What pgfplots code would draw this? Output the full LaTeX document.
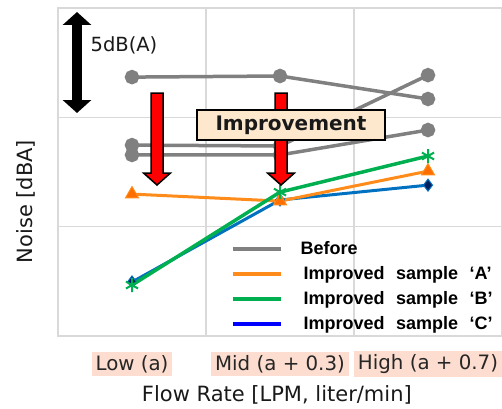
\documentclass[border=0pt]{standalone}
\usepackage{fontspec}
\setmainfont{DejaVu Sans}
\newfontfamily\legfont{Liberation Sans}[WordSpace=2.3]
\usepackage{pgfplots}
\pgfplotsset{compat=1.18}
\usetikzlibrary{arrows.meta}
\definecolor{grayline}{RGB}{128,128,128}
\definecolor{orangeA}{RGB}{255,140,26}
\definecolor{orangeFill}{RGB}{255,110,0}
\definecolor{greenB}{RGB}{0,176,80}
\definecolor{blueC}{RGB}{0,112,192}
\definecolor{blueLeg}{RGB}{0,0,255}
\definecolor{navy}{RGB}{0,32,96}
\definecolor{gridc}{RGB}{217,217,217}
\definecolor{tickbg}{RGB}{252,221,207}
\definecolor{boxbg}{RGB}{253,232,206}
\begin{document}
\begin{tikzpicture}[x=1pt,y=1pt]
\begin{axis}[
  at={(58pt,72pt)}, anchor=south west,
  scale only axis, width=444pt, height=328pt,
  xmin=0, xmax=3, ymin=0, ymax=15,
  xtick={0.5,1.5,2.5},
  xticklabels={Low (a), Mid (a + 0.3), High (a + 0.7)},
  minor xtick={1,2},
  ytick={5,10}, yticklabels={},
  xmajorgrids=false, xminorgrids=true, ymajorgrids=true,
  grid style={gridc, line width=1.5pt},
  minor grid style={gridc, line width=1.5pt},
  axis line style={gridc, line width=1.5pt},
  major tick length=0pt, minor tick length=0pt,
  xticklabel style={font=\fontsize{19.8}{21}\selectfont, fill=tickbg, inner xsep=4pt, inner ysep=3pt, anchor=center, yshift=-28pt, text=black!85},
  xlabel={Flow Rate [LPM, liter/min]},
  xlabel style={font=\fontsize{21}{23}\selectfont, at={(axis description cs:0.493,-0.18)}, anchor=center, text=black!90},
  ylabel={Noise [dBA]},
  ylabel style={font=\fontsize{21}{23}\selectfont, at={(axis description cs:-0.072,0.41)}, anchor=center, text=black!90},
  legend style={at={(axis cs:1.145,4.5)}, anchor=north west, draw=none, fill=none,
    font=\legfont\bfseries\fontsize{18}{19}\selectfont, row sep=6.5pt,
    cells={anchor=west},
    /tikz/every odd column/.append style={column sep=16pt}},
  legend image code/.code={\draw[#1] (0pt,0pt) -- (48pt,0pt);},
  clip=false,
]
% Before (3 samples)
\addplot[grayline, line width=3.5pt, mark=*, mark size=5.5pt, forget plot] coordinates {(0.5,11.84) (1.5,11.89) (2.5,10.84)};
\addplot[grayline, line width=3.5pt, mark=*, mark size=5.5pt, forget plot] coordinates {(0.5,8.73) (1.5,8.69) (2.5,11.93)};
\addplot[grayline, line width=3.5pt, mark=*, mark size=5.5pt, forget plot] coordinates {(0.5,8.28) (1.5,8.28) (2.5,9.42)};
% C
\addplot[blueC, line width=3pt, mark=diamond*, mark size=6pt, mark options={fill=navy, draw=blueC, line width=1pt}, forget plot] coordinates {(0.5,2.47) (1.5,6.22) (2.5,6.90)};
% A
\addplot[orangeA, line width=3pt, mark=triangle*, mark size=7.5pt, mark options={fill=orangeFill, draw=orangeA, line width=1pt}, forget plot] coordinates {(0.5,6.49) (1.5,6.17) (2.5,7.54)};
% B
\addplot[greenB, line width=3.5pt, mark=asterisk, mark size=7pt, mark options={line width=2pt}, forget plot] coordinates {(0.5,2.33) (1.5,6.58) (2.5,8.23)};
\addlegendimage{grayline, line width=4pt}
\addlegendentry{Before}
\addlegendimage{orangeA, line width=4pt}
\addlegendentry{\hspace{3pt}Improved sample ‘A’}
\addlegendimage{greenB, line width=4pt}
\addlegendentry{\hspace{3pt}Improved sample ‘B’}
\addlegendimage{blueLeg, line width=4pt}
\addlegendentry{\hspace{3pt}Improved sample ‘C’}
\end{axis}
% 5 dB scale arrow
\draw[line width=10pt, {Triangle[length=13pt,width=28pt]}-{Triangle[length=13pt,width=28pt]}] (77,396) -- (77,295);
\node[font=\fontsize{19.5}{22}\selectfont, text=black!90] at (124,363) {5dB(A)};
% red improvement arrows
\draw[fill=red, draw=black, line width=1.5pt, line join=miter] (151,315) -- (163,315) -- (163,235) -- (170.5,235) -- (157,223) -- (143.5,235) -- (151,235) -- cycle;
\draw[fill=red, draw=black, line width=1.5pt, line join=miter] (275,315) -- (287,315) -- (287,235) -- (294.5,235) -- (281,223) -- (267.5,235) -- (275,235) -- cycle;
\node[draw=black, fill=boxbg, line width=1.5pt, minimum width=188pt, minimum height=30pt, font=\fontsize{20}{22}\selectfont\bfseries, text=black!90] at (291,283) {Improvement};
\pgfresetboundingbox
\useasboundingbox (0,0) rectangle (502,408);
\end{tikzpicture}
\end{document}
